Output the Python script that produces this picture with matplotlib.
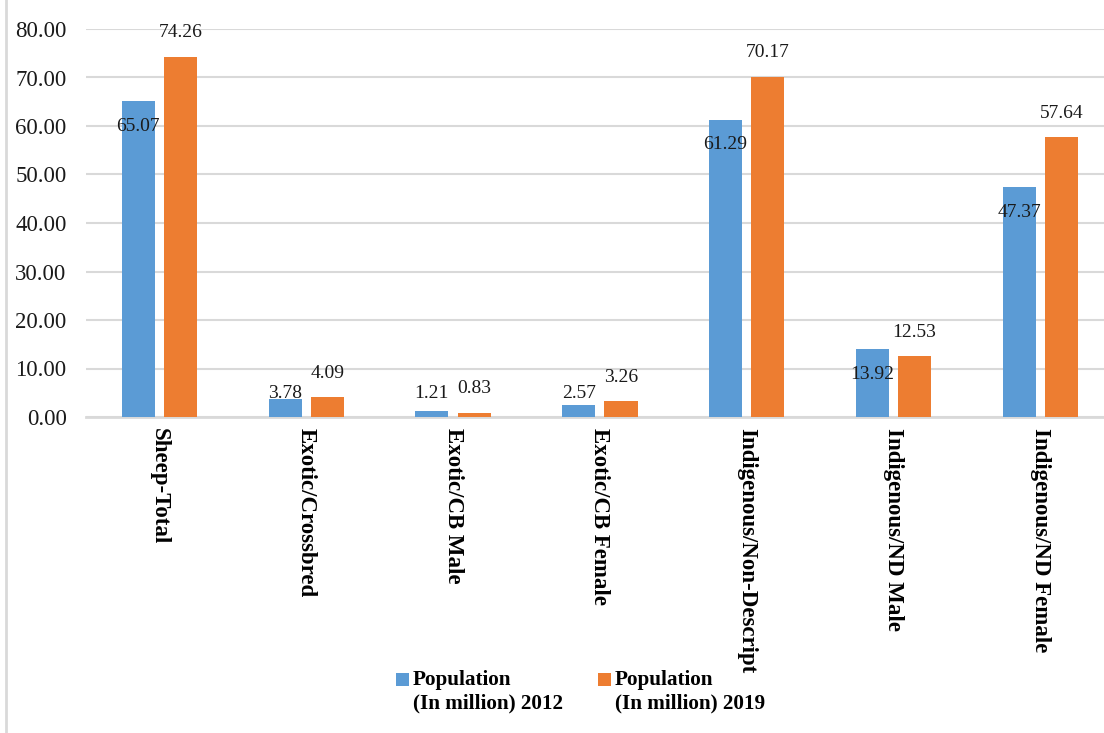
import matplotlib
matplotlib.use("Agg")
import matplotlib.pyplot as plt
import numpy as np
from matplotlib.patches import Rectangle
from matplotlib.legend_handler import HandlerPatch
from matplotlib.lines import Line2D

categories = ["Sheep-Total", "Exotic/Crossbred", "Exotic/CB Male", "Exotic/CB Female",
              "Indigenous/Non-Descript", "Indigenous/ND Male", "Indigenous/ND Female"]
pop_2012 = [65.07, 3.78, 1.21, 2.57, 61.29, 13.92, 47.37]
pop_2019 = [74.26, 4.09, 0.83, 3.26, 70.17, 12.53, 57.64]
series_names = ["Population\n(In million) 2012", "Population\n(In million) 2019"]

blue = "#5B9BD5"
orange = "#ED7D31"
grid_c = "#D9D9D9"

plt.rcParams["font.family"] = ["Liberation Serif", "DejaVu Serif"]

W, H = 1104, 733
fig = plt.figure(figsize=(W / 100, H / 100), dpi=100)
# plot area runs past the right edge of the picture (cropped chart)
ax = fig.add_axes([86 / W, 1 - 417 / H, (1113.7 - 86) / W, (417 - 29) / H])

x = np.arange(len(categories))
bw = 0.225
off = 0.144
b1 = ax.bar(x - off, pop_2012, bw, color=blue, label=series_names[0], zorder=3)
b2 = ax.bar(x + off, pop_2019, bw, color=orange, label=series_names[1], zorder=3)

ax.set_xlim(-0.5, len(categories) - 0.5)
ax.set_ylim(0, 80)
ax.set_yticks(np.arange(0, 81, 10))
ax.set_yticklabels([f"{v:.2f}" for v in np.arange(0, 81, 10)], fontsize=16.5, color="#1a1a1a")
ax.yaxis.grid(True, color=grid_c, linewidth=1.5, zorder=0)
ax.set_axisbelow(True)
ax.tick_params(axis="y", length=0, pad=14)
ax.tick_params(axis="x", length=0, pad=8)
ax.set_xticks(x)
ax.set_xticklabels(categories, rotation=270, fontsize=16.5, fontweight="bold",
                   va="top", ha="center", rotation_mode="default")
for s in ["top", "right", "left"]:
    ax.spines[s].set_visible(False)
ax.spines["bottom"].set_color(grid_c)
ax.spines["bottom"].set_linewidth(2)

px = 388 / 80  # pixels per unit
for xi, v in zip(x, pop_2012):
    y = max(v - 25 / px, 23 / px)
    ax.text(xi - off, y, f"{v:.2f}", ha="center", va="center", fontsize=14, color="#1a1a1a", zorder=4)
for xi, v in zip(x, pop_2019):
    ax.text(xi + off, v + 24 / px, f"{v:.2f}", ha="center", va="center", fontsize=14, color="#1a1a1a", zorder=4)


def top_square(legend, orig_handle, xdescent, ydescent, width, height, fontsize):
    s = 0.6 * fontsize
    return Rectangle((-xdescent + width - s, -ydescent + height / 2 - s / 2 + 0.6 * fontsize), s, s)


h1, h2 = b1.patches[0], b2.patches[0]
leg = fig.legend(handles=[h1, h2], labels=series_names, loc="center",
                 bbox_to_anchor=(580 / W, 1 - 692 / H), ncol=2, frameon=False,
                 prop={"weight": "bold", "size": 15.2}, handlelength=0.65, handleheight=0.7,
                 handletextpad=0.2, columnspacing=1.6,
                 handler_map={h1: HandlerPatch(patch_func=top_square),
                              h2: HandlerPatch(patch_func=top_square)})

fig.add_artist(Line2D([6 / W, 6 / W], [0, 1], transform=fig.transFigure, color=grid_c, linewidth=2))

fig.savefig("out.png", dpi=100)
